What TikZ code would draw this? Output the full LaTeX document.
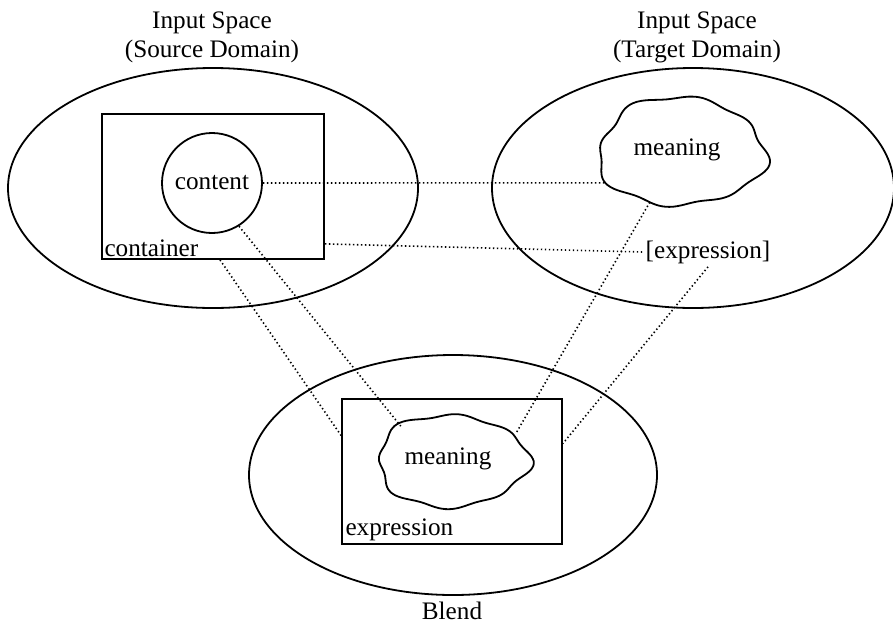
\documentclass[tikz,border=0pt]{standalone}
\usepackage{fontspec}
\setmainfont{Liberation Serif}
\usetikzlibrary{shapes.geometric}

\newcommand\wob[1]{(1+0.035*sin(8*#1)+0.04*sin(3*#1+40)+0.02*sin(5*#1+10))}

\begin{document}
\begin{tikzpicture}[x=0.5pt,y=-0.5pt,
  space/.style={draw,ellipse,line width=0.9pt,inner sep=0pt},
  frame/.style={draw,rectangle,line width=0.9pt,inner sep=0pt},
  link/.style={line width=0.8pt,dash pattern=on 0.7pt off 1.3pt},
  lbl/.style={font=\fontsize{12.6}{15}\selectfont,inner sep=1.5pt}]
\useasboundingbox (0,0) rectangle (893,622);
% the three spaces
\node[space,minimum width=205pt,minimum height=120pt] (src) at (213,188) {};
\node[space,minimum width=201pt,minimum height=120pt] (tgt) at (693,188) {};
\node[space,minimum width=204pt,minimum height=120pt] (blend) at (453,475) {};
\node[lbl,anchor=base] (srcname) at (212,28) {Input Space};
\node[lbl,anchor=base] (srcdom) at (212,57) {(Source Domain)};
\node[lbl,anchor=base] (tgtname) at (697,28) {Input Space};
\node[lbl,anchor=base] (tgtdom) at (697,57) {(Target Domain)};
\node[lbl,anchor=base] (blendname) at (452,619) {Blend};
% source: container and content
\node[frame,minimum width=111pt,minimum height=72.5pt] (box) at (213,186.5) {};
\node[lbl,anchor=south west] (boxname) at (box.south west) {container};
\node[draw,circle,line width=0.9pt,minimum size=50pt,inner sep=0pt,lbl] (content) at (212,183) {content};
% target: meaning and expression
\draw[line width=0.9pt] plot[smooth cycle,samples=72,domain=0:355,variable=\t]
  ({681+83*cos(\t)*\wob{\t}},{152+54*sin(\t)*\wob{\t}});
\node[lbl] (tmean) at (677,150) {meaning};
\node[lbl] (texpr) at (708,252) {[expression]};
\coordinate (tw) at ({681+83*cos(148)*\wob{148}},{152+54*sin(148)*\wob{148}});
\coordinate (ts) at ({681+83*cos(112)*\wob{112}},{152+54*sin(112)*\wob{112}});
% blend: expression frame with meaning
\node[frame,minimum width=110pt,minimum height=72.5pt] (bbox) at (452,471.5) {};
\node[lbl,anchor=base west] (bexpr) at ([xshift=0.5pt,yshift=4.5pt]bbox.south west) {expression};
\draw[line width=0.9pt] plot[smooth cycle,samples=72,domain=0:355,variable=\t]
  ({452+75*cos(\t)*\wob{\t+60}},{461+46*sin(\t)*\wob{\t+60}});
\node[lbl] (bmean) at (448,459) {meaning};
\coordinate (bnw) at ({452+75*cos(228)*\wob{288}},{461+46*sin(228)*\wob{288}});
\coordinate (bne) at ({452+75*cos(325)*\wob{385}},{461+46*sin(325)*\wob{385}});
% mappings
\draw[link] (content.east) -- (tw);
\draw[link] ([yshift=8pt]box.south east) -- (texpr.west);
\draw[link] (content.-58) -- (bnw);
\draw[link] ([xshift=3.5pt]box.south) -- ([yshift=18pt]bbox.west);
\draw[link] (ts) -- (bne);
\draw[link] (texpr.south) -- ([yshift=14pt]bbox.east);
\end{tikzpicture}
\end{document}
